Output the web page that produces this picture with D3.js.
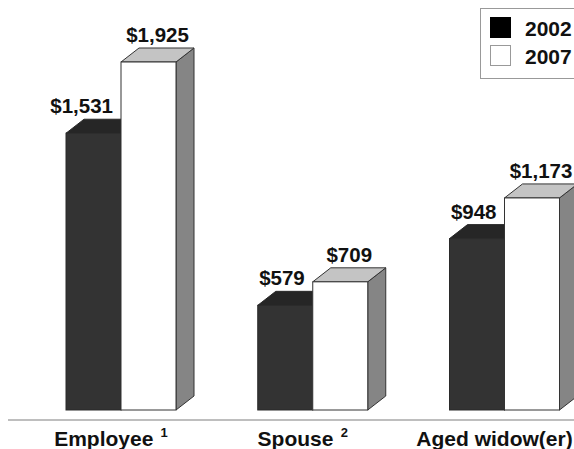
<!DOCTYPE html>
<html>
<head>
<meta charset="utf-8">
<script src="https://cdn.jsdelivr.net/npm/d3@7/dist/d3.min.js"></script>
<style>
  html, body { margin: 0; padding: 0; background: #fff; }
  svg { display: block; font-family: "Liberation Sans", Arial, Helvetica, sans-serif; font-weight: bold; }
</style>
</head>
<body>
<svg id="chart" width="574" height="449"></svg>
<script>
const categories = ["Employee", "Spouse", "Aged widow(er)"];
const footnotes = ["1", "2", ""];
const seriesNames = ["2002", "2007"];
const values2002 = [1531, 579, 948];
const values2007 = [1925, 709, 1173];

const svg = d3.select("#chart");
const W = 574, H = 449;
const depthX = 18, depthY = 14;
const barW = 55;

const seriesStyle = {
  "2002": { front: "#333333", top: "#262626", side: "#1e1e1e", stroke: "#2a2a2a" },
  "2007": { front: "#ffffff", top: "#c4c4c4", side: "#858585", stroke: "#333333" }
};

const x = d3.scalePoint().domain(categories).range([121, 504.5]);
const xSub = d3.scaleBand().domain(seriesNames).range([-barW, barW]).padding(0);
const y = d3.scaleLinear().domain([0, 1925]).range([410, 62]);
const fmt = d3.format("$,");

// baseline
svg.append("line")
  .attr("x1", 8).attr("x2", W)
  .attr("y1", 420).attr("y2", 420)
  .attr("stroke", "#a8a8a8").attr("stroke-width", 1.6);

const data = [];
categories.forEach((c, i) => {
  data.push({ cat: c, s: "2002", v: values2002[i] });
  data.push({ cat: c, s: "2007", v: values2007[i] });
});

const bars = svg.append("g");
data.forEach(d => {
  const x0 = x(d.cat) + xSub(d.s);
  const x1 = x0 + xSub.bandwidth();
  const yt = y(d.v), yb = y(0);
  const st = seriesStyle[d.s];
  const g = bars.append("g");
  g.append("path")
    .attr("d", `M${x1},${yt}L${x1 + depthX},${yt - depthY}L${x1 + depthX},${yb - depthY}L${x1},${yb}Z`)
    .attr("fill", st.side).attr("stroke", st.stroke).attr("stroke-width", 1).attr("stroke-linejoin", "round");
  g.append("path")
    .attr("d", `M${x0},${yt}L${x0 + depthX},${yt - depthY}L${x1 + depthX},${yt - depthY}L${x1},${yt}Z`)
    .attr("fill", st.top).attr("stroke", st.stroke).attr("stroke-width", 1).attr("stroke-linejoin", "round");
  g.append("rect")
    .attr("x", x0).attr("y", yt)
    .attr("width", x1 - x0).attr("height", yb - yt)
    .attr("fill", st.front).attr("stroke", st.stroke).attr("stroke-width", 1);
});

// value labels
data.forEach(d => {
  const x0 = x(d.cat) + xSub(d.s);
  const x1 = x0 + xSub.bandwidth();
  const t = svg.append("text")
    .attr("y", y(d.v) - depthY - 6)
    .attr("text-anchor", "middle")
    .attr("font-size", 20.5)
    .attr("fill", "#111")
    .text(fmt(d.v));
  let cx;
  if (d.s === "2002") {
    const w = t.node().getComputedTextLength();
    const right = Math.min(x0 + xSub.bandwidth() / 2 + w / 2, x1 - 8);
    cx = right - w / 2;
  } else {
    cx = x0 + xSub.bandwidth() / 2 + depthX / 2;
  }
  t.attr("x", cx);
});

// category labels
categories.forEach((c, i) => {
  const t = svg.append("text")
    .attr("x", x(c) - 10)
    .attr("y", 446)
    .attr("text-anchor", "middle")
    .attr("font-size", 21)
    .attr("fill", "#111");
  t.append("tspan").text(c);
  if (footnotes[i]) {
    t.append("tspan").attr("font-size", 13).text("\u00a0\u00a0");
    t.append("tspan").attr("font-size", 13).attr("dy", -9).text(footnotes[i]);
  }
});

// legend
const lg = svg.append("g");
lg.append("rect")
  .attr("x", 480.5).attr("y", 8.5).attr("width", 100).attr("height", 70)
  .attr("fill", "#fff").attr("stroke", "#999").attr("stroke-width", 1);
const legendFill = { "2002": "#000", "2007": "#fff" };
const legendStroke = { "2002": "#000", "2007": "#999" };
const ly = d3.scaleBand().domain(seriesNames).range([13, 69]);
seriesNames.forEach(s => {
  lg.append("rect")
    .attr("x", 490.5).attr("y", ly(s) + 4.5)
    .attr("width", 20).attr("height", 20)
    .attr("fill", legendFill[s]).attr("stroke", legendStroke[s]).attr("stroke-width", 1);
  lg.append("text")
    .attr("x", 525).attr("y", ly(s) + 23)
    .attr("font-size", 21).attr("fill", "#111")
    .text(s);
});
</script>
</body>
</html>
